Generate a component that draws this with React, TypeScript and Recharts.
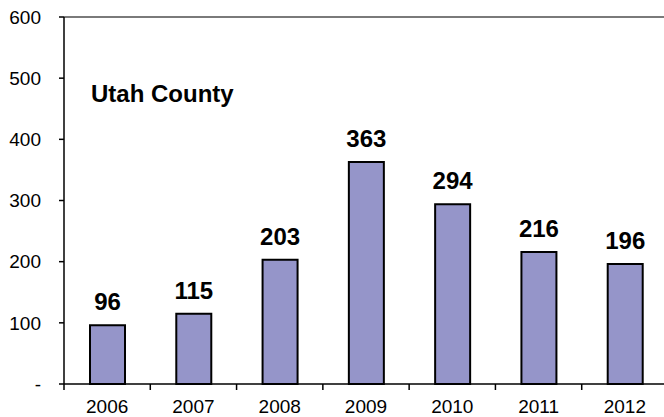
import { BarChart, Bar, XAxis, YAxis, LabelList, ReferenceLine } from 'recharts';

const years = ['2006', '2007', '2008', '2009', '2010', '2011', '2012'];
const counts = [96, 115, 203, 363, 294, 216, 196];
const yTicks = [0, 100, 200, 300, 400, 500, 600];

const data = years.map((year, i) => ({ year, count: counts[i] }));

const font = 'Arial, "Liberation Sans", sans-serif';

const YearTick = (props: any) => {
  const { x, y, payload } = props;
  const half = payload?.offset ?? 43;
  return (
    <g>
      <line x1={x - half} x2={x - half} y1={y - 6} y2={y} stroke="#000" strokeWidth={1.5} />
      <text x={x} y={y + 23} textAnchor="middle" fontSize={19} fontFamily={font} fill="#000">
        {payload.value}
      </text>
    </g>
  );
};

export default function App() {
  return (
    <div style={{ position: 'absolute', left: 0, top: 0, width: 664, height: 417, overflow: 'hidden', background: '#fff' }}>
      <BarChart width={680} height={417} data={data} margin={{ top: 17, right: 12, left: 0, bottom: 0 }}>
        <ReferenceLine y={600} stroke="#7a7a7a" strokeWidth={2} />
        <XAxis
          dataKey="year"
          height={33}
          tickSize={6}
          tickMargin={0}
          tickLine={false}
          axisLine={{ stroke: '#000', strokeWidth: 1.5 }}
          tick={<YearTick />}
          interval={0}
        />
        <YAxis
          width={64}
          domain={[0, 600]}
          ticks={yTicks}
          tickSize={5}
          tickMargin={18}
          tickFormatter={(v) => (v === 0 ? '-' : `${v}`)}
          axisLine={{ stroke: '#000', strokeWidth: 1.5 }}
          tickLine={{ stroke: '#000', strokeWidth: 1.5 }}
          tick={{ fontSize: 19, fill: '#000', fontFamily: font }}
        />
        <Bar dataKey="count" fill="#9595c9" stroke="#000" strokeWidth={2} barSize={35} isAnimationActive={false}>
          <LabelList dataKey="count" position="top" offset={15} fontSize={24} fontWeight="bold" fill="#000" fontFamily={font} />
        </Bar>
        <text x={91} y={102} fontSize={24} fontWeight="bold" fontFamily={font} fill="#000">
          Utah County
        </text>
      </BarChart>
    </div>
  );
}
